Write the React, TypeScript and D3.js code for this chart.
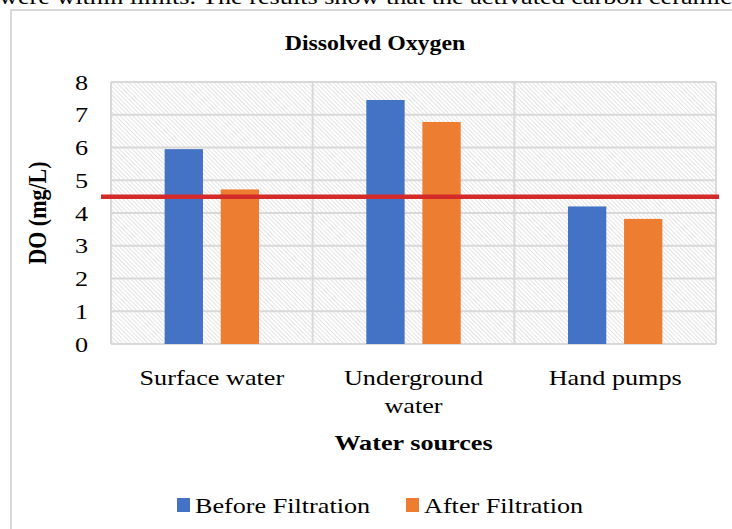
import * as d3 from "d3"

const categories = ["Surface water", "Underground water", "Hand pumps"]
const categoryLines = [["Surface water"], ["Underground", "water"], ["Hand pumps"]]
const seriesNames = ["Before Filtration", "After Filtration"]
const beforeValues = [5.95, 7.45, 4.2]
const afterValues = [4.72, 6.78, 3.82]
const yTicks = [0, 1, 2, 3, 4, 5, 6, 7, 8]
const limitValue = 4.5

const colors = ["#4472c4", "#ed7d31"]
const serif = "Liberation Serif, Times New Roman, serif"
// the source picture is stretched sideways, so the text is too
const sx = 1.19

export default function App() {
  const width = 732
  const height = 529
  const margin = { top: 82, right: 16, bottom: 185, left: 111 }
  const innerW = width - margin.left - margin.right
  const innerH = height - margin.top - margin.bottom

  const x = d3.scaleBand().domain(categories).range([0, innerW]).padding(0)
  const y = d3.scaleLinear().domain([0, 8]).range([innerH, 0])

  // two bars per category with a gap between them
  const barW = x.bandwidth() * 0.19
  const gap = x.bandwidth() * 0.088
  const groupW = barW * 2 + gap
  const series = [beforeValues, afterValues]

  const at = (px: number, py: number) => `translate(${px},${py}) scale(${sx},1)`

  return (
    <div style={{ position: "absolute", left: 0, top: 0 }}>
      <svg width={width} height={height} style={{ display: "block" }} fontFamily={serif}>
        <defs>
          <pattern
            id="hatch"
            patternUnits="userSpaceOnUse"
            width={3}
            height={3}
            patternTransform="rotate(-45)"
          >
            <rect width={3} height={3} fill="#ffffff" />
            <line x1={0} y1={0} x2={0} y2={3} stroke="#d2d2d2" strokeWidth={1.2} />
          </pattern>
        </defs>
        <rect width={width} height={height} fill="#ffffff" />

        {/* document text cut off at the top */}
        <text transform={at(-1, 4)} fontSize={22} fill="#000">
          were within limits. The results show that the activated carbon ceramic
        </text>

        {/* chart frame */}
        <path d={`M11,${height + 5} V10 H${width + 5}`} fill="none" stroke="#d9d9d9" strokeWidth={2} />

        <text transform={at(375, 50)} textAnchor="middle" fontWeight="bold" fontSize={20} fill="#000">
          Dissolved Oxygen
        </text>

        <g transform={`translate(${margin.left},${margin.top})`}>
          <rect width={innerW} height={innerH} fill="url(#hatch)" />
          {yTicks.map((t) => (
            <line key={t} x1={0} x2={innerW} y1={y(t)} y2={y(t)} stroke="#d9d9d9" strokeWidth={2} />
          ))}
          {[0, 1, 2, 3].map((i) => (
            <line
              key={i}
              x1={i * x.bandwidth()}
              x2={i * x.bandwidth()}
              y1={0}
              y2={innerH}
              stroke="#d9d9d9"
              strokeWidth={2}
            />
          ))}

          {categories.map((c, ci) =>
            series.map((vals, si) => {
              const x0 = (x(c) || 0) + (x.bandwidth() - groupW) / 2 + si * (barW + gap)
              return (
                <rect
                  key={c + si}
                  x={x0}
                  y={y(vals[ci])}
                  width={barW}
                  height={innerH - y(vals[ci])}
                  fill={colors[si]}
                />
              )
            })
          )}

          {/* limit line */}
          <line
            x1={-10}
            x2={innerW + 3}
            y1={y(limitValue)}
            y2={y(limitValue)}
            stroke="#d42a2a"
            strokeWidth={4.5}
          />

          {yTicks.map((t) => (
            <text
              key={t}
              transform={at(-23, y(t))}
              dy="0.35em"
              textAnchor="end"
              fontSize={22}
              fill="#000"
            >
              {t}
            </text>
          ))}

          {categories.map((c, ci) => (
            <text
              key={c}
              transform={at((x(c) || 0) + x.bandwidth() / 2, innerH + 41)}
              textAnchor="middle"
              fontSize={22}
              fill="#000"
            >
              {categoryLines[ci].map((line, li) => (
                <tspan key={li} x={0} dy={li === 0 ? 0 : 28}>
                  {line}
                </tspan>
              ))}
            </text>
          ))}

          <text
            transform={at(innerW / 2, innerH + 106)}
            textAnchor="middle"
            fontWeight="bold"
            fontSize={22}
            fill="#000"
          >
            Water sources
          </text>

          <text
            transform={`${at(-65, innerH / 2)} rotate(-90)`}
            textAnchor="middle"
            fontWeight="bold"
            fontSize={22}
            fill="#000"
          >
            DO (mg/L)
          </text>
        </g>

        {/* legend */}
        <g transform="translate(0,505)">
          {seriesNames.map((name, i) => {
            const lx = i === 0 ? 177 : 406
            return (
              <g key={name} transform={`translate(${lx},0)`}>
                <rect x={0} y={-7} width={13} height={14} fill={colors[i]} />
                <text transform={at(18, 0)} dy="0.35em" fontSize={22} fill="#000">
                  {name}
                </text>
              </g>
            )
          })}
        </g>
      </svg>
    </div>
  )
}
